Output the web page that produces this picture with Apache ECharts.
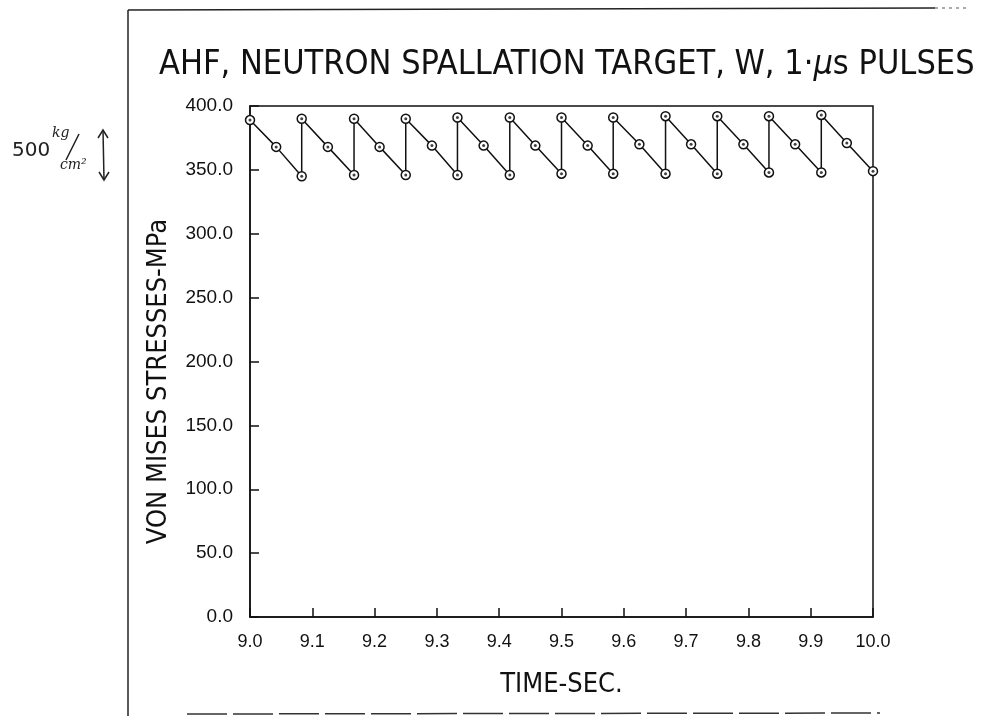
<!DOCTYPE html>
<html>
<head>
<meta charset="utf-8">
<script src="https://cdn.jsdelivr.net/npm/echarts@6/dist/echarts.min.js"></script>
<style>
html,body{margin:0;padding:0;background:#fff;}
#chart{width:992px;height:716px;}
</style>
</head>
<body>
<div id="chart"></div>
<script>
// ---- data ----
const titleText = 'AHF, NEUTRON SPALLATION TARGET, W, 1\u00b7{mu|\u03bc}s PULSES';
const yAxisName = 'VON MISES STRESSES-MPa';
const xAxisName = 'TIME-SEC.';
const xTickLabels = ['9.0','9.1','9.2','9.3','9.4','9.5','9.6','9.7','9.8','9.9','10.0'];
const yTickLabels = ['0.0','50.0','100.0','150.0','200.0','250.0','300.0','350.0','400.0'];
const timeSec = [
  9.000, 9.042, 9.083,
  9.083, 9.125, 9.167,
  9.167, 9.208, 9.250,
  9.250, 9.292, 9.333,
  9.333, 9.375, 9.417,
  9.417, 9.458, 9.500,
  9.500, 9.542, 9.583,
  9.583, 9.625, 9.667,
  9.667, 9.708, 9.750,
  9.750, 9.792, 9.833,
  9.833, 9.875, 9.917,
  9.917, 9.958, 10.000
];
const stressMPa = [
  389, 368, 345,
  390, 368, 346,
  390, 368, 346,
  390, 369, 346,
  391, 369, 346,
  391, 369, 347,
  391, 369, 347,
  391, 370, 347,
  392, 370, 347,
  392, 370, 348,
  392, 370, 348,
  393, 371, 349
];
const noteValue = '500';
const noteUnitTop = 'kg';
const noteUnitBottom = 'cm\u00b2';

// ---- chart ----
const pts = timeSec.map((t, i) => [t, stressMPa[i]]);
const narrow = "'Liberation Sans Narrow', 'DejaVu Sans Condensed', 'Liberation Sans', sans-serif";
const regular = "'Liberation Sans', Arial, sans-serif";

const chart = echarts.init(document.getElementById('chart'), null, {renderer: 'canvas'});
chart.setOption({
  backgroundColor: '#ffffff',
  animation: false,
  title: {
    text: titleText,
    left: 154,
    top: 43,
    textStyle: {
      fontFamily: narrow,
      fontSize: 34,
      fontWeight: 'normal',
      color: '#111',
      rich: {
        mu: {fontFamily: narrow, fontSize: 34, fontStyle: 'italic', color: '#111'}
      }
    }
  },
  grid: {
    left: 250, right: 119, top: 106, bottom: 99,
    show: true, borderColor: '#111', borderWidth: 1.5, backgroundColor: 'transparent'
  },
  xAxis: {
    type: 'value',
    min: 9.0, max: 10.0, interval: 0.1,
    name: xAxisName,
    nameLocation: 'middle',
    nameGap: 54,
    nameTextStyle: {fontFamily: narrow, fontSize: 27, color: '#111'},
    axisLine: {show: true, onZero: false, lineStyle: {color: '#111', width: 1.5}},
    axisTick: {show: true, inside: true, length: 9, lineStyle: {color: '#111', width: 1.5}},
    axisLabel: {
      margin: 16, fontFamily: regular, fontSize: 18, color: '#111',
      formatter: (v, i) => xTickLabels[i] !== undefined ? xTickLabels[i] : ''
    },
    splitLine: {show: false}
  },
  yAxis: {
    type: 'value',
    min: 0, max: 400, interval: 50,
    name: yAxisName,
    nameLocation: 'middle',
    nameRotate: 90,
    nameGap: 78,
    nameTextStyle: {fontFamily: narrow, fontSize: 27, color: '#111', padding: [0, 40, 0, 0]},
    axisLine: {show: true, onZero: false, lineStyle: {color: '#111', width: 1.5}},
    axisTick: {show: true, inside: true, length: 9, lineStyle: {color: '#111', width: 1.5}},
    axisLabel: {
      margin: 17, fontFamily: regular, fontSize: 19, color: '#111',
      formatter: (v, i) => yTickLabels[i] !== undefined ? yTickLabels[i] : ''
    },
    splitLine: {show: false}
  },
  series: [
    {
      type: 'line',
      data: pts,
      symbol: 'circle',
      symbolSize: 9,
      showAllSymbol: true,
      lineStyle: {color: '#111', width: 1.5},
      itemStyle: {color: '#fff', borderColor: '#111', borderWidth: 1.5},
      z: 3
    },
    {
      type: 'scatter',
      data: pts,
      symbol: 'circle',
      symbolSize: 3,
      itemStyle: {color: '#111'},
      z: 4,
      silent: true
    }
  ],
  graphic: [
    // outer page frame of the scanned figure
    {type: 'line', shape: {x1: 128, y1: 10, x2: 128, y2: 716}, style: {stroke: '#222', lineWidth: 1.5}},
    {type: 'line', shape: {x1: 128, y1: 10, x2: 935, y2: 8}, style: {stroke: '#222', lineWidth: 1.5}},
    {type: 'line', shape: {x1: 935, y1: 8, x2: 970, y2: 8}, style: {stroke: '#555', lineWidth: 1, lineDash: [3, 4]}},
    {type: 'line', shape: {x1: 187, y1: 714, x2: 880, y2: 713}, style: {stroke: '#333', lineWidth: 1.5, lineDash: [40, 6]}},
    // handwritten annotation
    {type: 'text', left: 12, top: 141, style: {text: noteValue, font: "20px 'DejaVu Sans', sans-serif", fill: '#222'}},
    {type: 'text', left: 52, top: 126, style: {text: noteUnitTop, font: "italic 14px 'DejaVu Serif', serif", fill: '#222'}},
    {type: 'line', shape: {x1: 66, y1: 160, x2: 79, y2: 134}, style: {stroke: '#222', lineWidth: 1.5}},
    {type: 'text', left: 60, top: 158, style: {text: noteUnitBottom, font: "italic 14px 'DejaVu Serif', serif", fill: '#222'}},
    {type: 'line', shape: {x1: 103, y1: 130, x2: 104, y2: 180}, style: {stroke: '#222', lineWidth: 1.5}},
    {type: 'polyline', shape: {points: [[98, 138], [103, 130], [108, 138]]}, style: {stroke: '#222', lineWidth: 1.5, fill: null}},
    {type: 'polyline', shape: {points: [[99, 172], [104, 180], [109, 172]]}, style: {stroke: '#222', lineWidth: 1.5, fill: null}}
  ]
});
</script>
</body>
</html>
